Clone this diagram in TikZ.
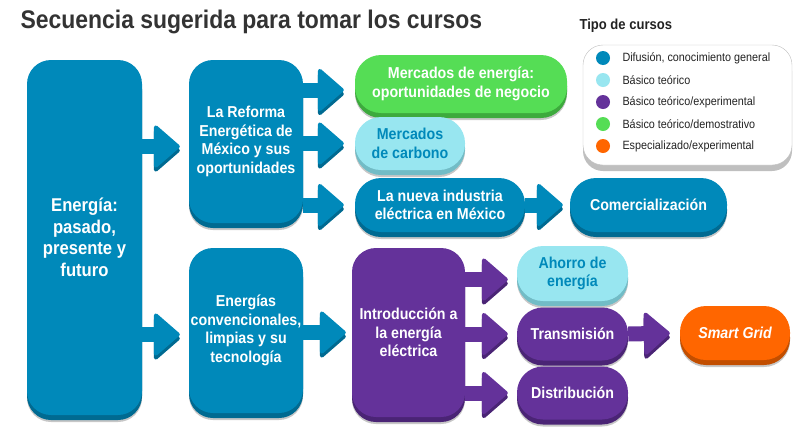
\documentclass[tikz,border=0pt]{standalone}
\usepackage{fontspec}
\setmainfont{Liberation Sans}[FakeStretch=0.9]
\usetikzlibrary{arrows.meta,shadows}

\definecolor{difblue}{HTML}{0089BA}
\definecolor{difbluedk}{HTML}{006A91}
\definecolor{teocyan}{HTML}{98E6F0}
\definecolor{teocyandk}{HTML}{72BCC6}
\definecolor{expviolet}{HTML}{64329A}
\definecolor{expvioletdk}{HTML}{4A2475}
\definecolor{demgreen}{HTML}{55DD55}
\definecolor{demgreendk}{HTML}{3DAA3D}
\definecolor{espor}{HTML}{FF6600}
\definecolor{espordk}{HTML}{C24E00}
\definecolor{titlegray}{HTML}{333333}
\definecolor{legendgray}{HTML}{222222}

\begin{document}
\begin{tikzpicture}[x=1pt, y=-1pt,
  curso/.style={fill=#1, text=white, align=center, inner sep=0pt,
    font=\bfseries\fontsize{15.8}{18.5}\selectfont,
    general shadow={fill=black!22, shadow yshift=-7pt},
    general shadow={fill=#1dk, shadow yshift=-5pt}},
  bloque/.style={curso=#1, rounded corners=24pt},
  pildora/.style={curso=#1, rounded corners=26pt},
  flecha/.style={draw=#1, line width=15pt,
    -{Triangle[length=27pt, width=46pt, round, line width=4pt]},
    preaction={draw=#1dk, transform canvas={yshift=-4pt}}},
  punto/.style={circle, fill=#1, minimum size=14pt, inner sep=0pt},
  leyenda/.style={anchor=west, font=\fontsize{12}{14}\selectfont, text=legendgray}
]
\useasboundingbox (0,0) rectangle (800,445);

% title
\node[anchor=west, text=titlegray, font=\bfseries\fontsize{25.5}{28}\selectfont] (titulo) at (17,22) {Secuencia sugerida para tomar los cursos};

% courses, first column
\node[bloque=difblue, minimum width=115pt, minimum height=355pt,
  font=\bfseries\fontsize{18.5}{21.5}\selectfont] (energia) at (84.5,237.5) {Energía:\\pasado,\\presente y\\futuro};

% second column
\node[bloque=difblue, minimum width=114pt, minimum height=163pt] (reforma) at (246,141.5) {La Reforma\\Energética de\\México y sus\\oportunidades};
\node[bloque=difblue, minimum width=114pt, minimum height=165pt] (convenc) at (246,330.5) {Energías\\convencionales,\\limpias y su\\tecnología};

% third column
\node[pildora=demgreen, minimum width=212pt, minimum height=58pt] (mercener) at (461,84) {Mercados de energía:\\oportunidades de negocio};
\node[pildora=teocyan, text=difblue, minimum width=110pt, minimum height=53pt] (carbono) at (410,143.5) {Mercados\\de carbono};
\node[pildora=difblue, minimum width=170pt, minimum height=54pt] (industria) at (440,205) {La nueva industria\\eléctrica en México};
\node[bloque=expviolet, minimum width=113pt, minimum height=169pt] (intro) at (408.5,332.5) {Introducción a\\la energía\\eléctrica};

% fourth column
\node[pildora=difblue, minimum width=157pt, minimum height=54pt] (comerc) at (648.5,205) {Comercialización};
\node[pildora=teocyan, text=difblue, minimum width=111pt, minimum height=55pt] (ahorro) at (572.5,273.5) {Ahorro de\\energía};
\node[pildora=expviolet, minimum width=111pt, minimum height=53pt] (transm) at (572.5,334) {Transmisión};
\node[pildora=expviolet, minimum width=111pt, minimum height=53pt] (distrib) at (572.5,393) {Distribución};
\node[pildora=espor, minimum width=110pt, minimum height=54pt, font=\bfseries\itshape\fontsize{15.8}{18.5}\selectfont] (smart) at (735,333) {Smart Grid};

% sequence arrows
\draw[flecha=difblue, shorten >=9pt] ([yshift=-5pt]reforma.west -| energia.east) -- ([yshift=-5pt]reforma.west);
\draw[flecha=difblue, shorten >=9pt] ([yshift=-4pt]convenc.west -| energia.east) -- ([yshift=-4pt]convenc.west);
\draw[flecha=difblue, shorten >=11pt] ([yshift=-6pt]mercener.west -| reforma.east) -- ([yshift=-6pt]mercener.west);
\draw[flecha=difblue, shorten >=11pt] (carbono.west -| reforma.east) -- (carbono.west);
\draw[flecha=difblue, shorten >=11pt] (industria.west -| reforma.east) -- (industria.west);
\draw[flecha=difblue, shorten >=7pt] (industria.east) -- (comerc.west);
\draw[flecha=difblue, shorten >=6pt] (intro.west -| convenc.east) -- (intro.west);
\draw[flecha=expviolet, shorten >=9pt] ([yshift=-6pt]ahorro.west -| intro.east) -- ([yshift=-6pt]ahorro.west);
\draw[flecha=expviolet, shorten >=9pt] (transm.west -| intro.east) -- (transm.west);
\draw[flecha=expviolet, shorten >=9pt] (distrib.west -| intro.east) -- (distrib.west);
\draw[flecha=expviolet, shorten >=10pt] (transm.east) -- (smart.west);

% legend
\node[anchor=west, text=legendgray, font=\bfseries\fontsize{14.5}{17}\selectfont] (tipo) at (576,26) {Tipo de cursos};
\node[draw=black!25, fill=white, rounded corners=20pt, minimum width=209pt, minimum height=120pt,
  general shadow={fill=black!25, shadow yshift=-6pt}] (leyenda) at (687.5,105) {};
\foreach \col/\txt [count=\i] in {difblue/{Difusión, conocimiento general}, teocyan/{Básico teórico},
    expviolet/{Básico teórico/experimental}, demgreen/{Básico teórico/demostrativo},
    espor/{Especializado/experimental}}
{
  \node[punto=\col] (punto\i) at (603,36+22*\i) {};
  \node[leyenda] (tipo\i) at (619,36+22*\i) {\txt};
}

\end{tikzpicture}
\end{document}
